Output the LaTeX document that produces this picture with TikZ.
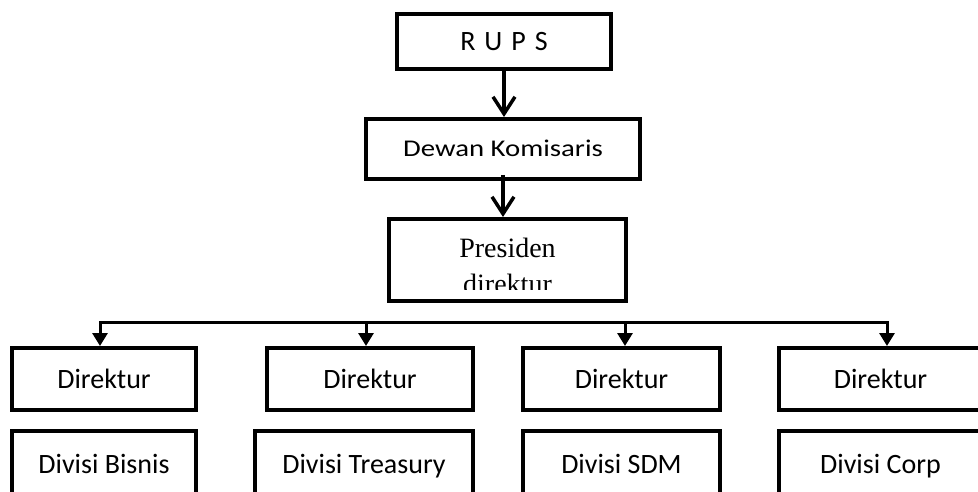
\documentclass[tikz,border=0pt]{standalone}
\usepackage{fontspec}
\setsansfont{Carlito}
\newfontfamily\dewanfont{Carlito}[FakeStretch=1.2]
\newfontfamily\presfont{Liberation Serif}
\usetikzlibrary{arrows.meta}

\begin{document}
\begin{tikzpicture}[x=1pt,y=-1pt,
  kbox/.style={draw, line width=4pt, inner sep=0pt,
    font=\sffamily\fontsize{28}{32}\selectfont, text height=18pt, text depth=0pt},
  barb/.style={line width=3.5pt, -{Straight Barb[length=17pt,width=22pt]}},
  bus/.style={line width=3pt},
  busarrow/.style={line width=3pt, -{Triangle[length=13pt,width=15pt]}}]
\useasboundingbox (0,0) rectangle (978,492);
\clip (0,0) rectangle (978,492);

% Top of the chart
\node[kbox, minimum width=214pt, minimum height=55pt] (rups) at (504,41.5) {\spaceskip=9pt R U P S};
\node[kbox, font=\dewanfont\fontsize{24}{28}\selectfont, text height=15.5pt,
  minimum width=274pt, minimum height=60pt] (dewan) at (503,149) {Dewan Komisaris};
\node[draw, line width=4pt, inner sep=0pt, minimum width=237pt, minimum height=82pt] (pres) at (507.5,260) {};
\begin{scope}
  \clip (389,221) rectangle (626,289);
  \node[font=\presfont\fontsize{28}{32}\selectfont, anchor=base] (pres1) at (507.5,257) {Presiden};
  \node[font=\presfont\fontsize{28}{32}\selectfont, anchor=base] (pres2) at (507.5,293) {direktur};
\end{scope}

\draw[barb] (rups.south) -- (rups.south |- dewan.north);
\draw[barb] ([yshift=6pt]dewan.south) -- (dewan.south |- pres.north);

% Direktur row
\node[kbox, minimum width=184pt, minimum height=62pt] (dir1) at (104,379) {Direktur};
\node[kbox, minimum width=206pt, minimum height=62pt] (dir2) at (370,379) {Direktur};
\node[kbox, minimum width=197pt, minimum height=62pt] (dir3) at (621.5,379) {Direktur};
\node[kbox, minimum width=203pt, minimum height=62pt] (dir4) at (880.5,379) {Direktur};

% Divisi row
\node[kbox, minimum width=184pt, minimum height=67pt] (div1) at (104,464.5) {Divisi Bisnis};
\node[kbox, minimum width=218pt, minimum height=67pt] (div2) at (364,464.5) {Divisi Treasury};
\node[kbox, minimum width=197pt, minimum height=67pt] (div3) at (621.5,464.5) {Divisi SDM};
\node[kbox, minimum width=203pt, minimum height=67pt] (div4) at (880.5,464.5) {Divisi Corp};

% Bus line
\coordinate (b1) at (100,322);
\coordinate (b2) at (366,322);
\coordinate (b3) at (625,322);
\coordinate (b4) at (887,322);
\draw[bus, {Triangle[length=13pt,width=15pt]}-{Triangle[length=13pt,width=15pt]}]
  (b1 |- dir1.north) -- (b1) -- (b4) -- (b4 |- dir4.north);
\draw[busarrow] (b2) -- (b2 |- dir2.north);
\draw[busarrow] (b3) -- (b3 |- dir3.north);

\end{tikzpicture}
\end{document}
